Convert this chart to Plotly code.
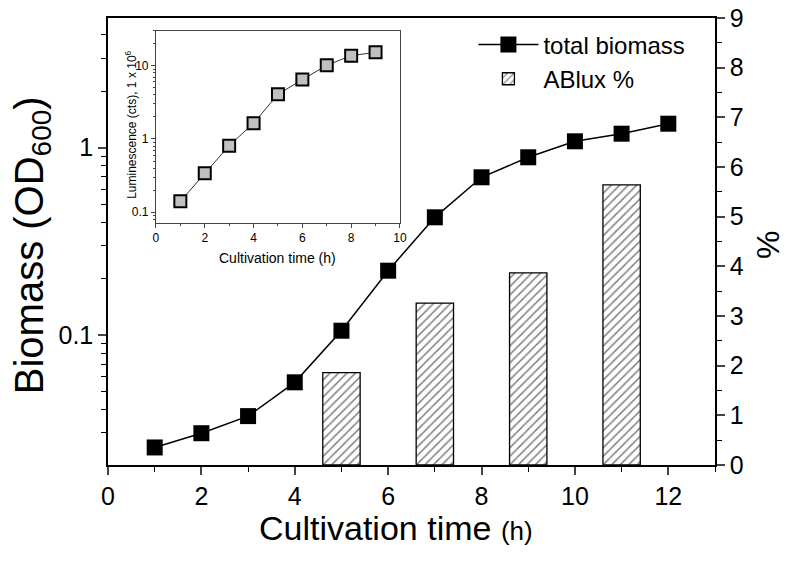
import plotly.graph_objects as go

# ---- data ----
time_h = [1, 2, 3, 4, 5, 6, 7, 8, 9, 10, 11, 12]
biomass_od600 = [0.0251, 0.0299, 0.0369, 0.0559, 0.1054, 0.2205, 0.425, 0.695, 0.889, 1.082, 1.188, 1.343]

ablux_time = [5, 7, 9, 11]
ablux_pct = [1.86, 3.26, 3.87, 5.64]

inset_time = [1, 2, 3, 4, 5, 6, 7, 8, 9]
inset_lum = [0.141, 0.34, 0.81, 1.64, 4.07, 6.45, 10.1, 13.7, 15.2]
inset_err = [0.008, 0.02, 0.05, 0.12, 0.5, 0.8, 1.4, 1.6, 1.8]

main_xticks = [0, 2, 4, 6, 8, 10, 12]
inset_xticks = [0, 2, 4, 6, 8, 10]

FONT = "Liberation Sans, Arial"

fig = go.Figure()

fig.add_trace(go.Scatter(
    x=time_h, y=biomass_od600, name="total biomass", mode="lines+markers",
    line=dict(color="black", width=1.5),
    marker=dict(symbol="square", size=16, color="black"),
    xaxis="x", yaxis="y",
))

fig.add_trace(go.Bar(
    x=ablux_time, y=ablux_pct, name="ABlux %", width=0.8,
    marker=dict(color="white", line=dict(color="black", width=1.3),
                pattern=dict(shape="/", fgcolor="black", bgcolor="white", size=6, solidity=0.25)),
    xaxis="x", yaxis="y2",
))

fig.add_trace(go.Scatter(
    x=inset_time, y=inset_lum, mode="lines+markers", showlegend=False,
    line=dict(color="#333", width=1),
    marker=dict(symbol="square", size=12, color="#c0c0c0", line=dict(color="black", width=2)),
    error_y=dict(type="data", array=inset_err, color="#333", thickness=1, width=2),
    xaxis="x2", yaxis="y3",
))

minor_log_main = [v * m for v in (0.01, 0.1, 1) for m in (2, 3, 4, 5, 6, 7, 8, 9)]
minor_log_inset = [v * m for v in (0.01, 0.1, 1, 10) for m in (2, 3, 4, 5, 6, 7, 8, 9)]

main_axis = dict(showline=True, linecolor="black", showgrid=False, zeroline=False,
                 automargin=False, ticklabeloverflow="allow")
inset_axis = dict(showline=True, linecolor="#444", showgrid=False, zeroline=False,
                  automargin=False, ticklabeloverflow="allow")

fig.update_layout(
    width=785, height=561,
    margin=dict(l=100, r=78, t=10, b=104, autoexpand=False),
    paper_bgcolor="white", plot_bgcolor="white",
    font=dict(family=FONT, color="black"),
    showlegend=True,
    legend=dict(x=0.602, y=0.99, xanchor="left", yanchor="top",
                bgcolor="rgba(0,0,0,0)", font=dict(size=24, family=FONT),
                traceorder="normal", tracegroupgap=0, itemwidth=60),
    bargap=0.2,
    xaxis=dict(**main_axis, linewidth=1.5, mirror=True, domain=[0, 1], range=[0, 13],
               tickvals=main_xticks, ticks="outside", ticklen=8, tickwidth=1.5,
               tickfont=dict(size=25, family=FONT),
               minor=dict(dtick=1, ticks="outside", ticklen=5, tickwidth=1.2, tickcolor="black")),
    yaxis=dict(**main_axis, linewidth=1.5, type="log", range=[-1.694, 0.6925],
               tickvals=[0.1, 1], ticktext=["0.1", "1"], ticks="outside", ticklen=8, tickwidth=1.5,
               tickfont=dict(size=25, family=FONT),
               minor=dict(tickvals=minor_log_main, ticks="outside", ticklen=5, tickwidth=1.2, tickcolor="black")),
    yaxis2=dict(**main_axis, linewidth=1.5, overlaying="y", side="right", range=[0, 9],
                tickvals=list(range(0, 10)), ticks="outside", ticklen=8, tickwidth=1.5,
                tickfont=dict(size=25, family=FONT),
                minor=dict(dtick=0.5, ticks="outside", ticklen=5, tickwidth=1.2, tickcolor="black")),
    xaxis2=dict(**inset_axis, linewidth=1, mirror=True, anchor="y3",
                domain=[0.079, 0.481], range=[0, 10], tickvals=inset_xticks,
                ticks="outside", ticklen=4, tickwidth=1, tickcolor="#444",
                tickfont=dict(size=12, family=FONT),
                minor=dict(dtick=1, ticks="outside", ticklen=2, tickcolor="#444")),
    yaxis3=dict(**inset_axis, linewidth=1, mirror=True, anchor="x2",
                type="log", domain=[0.5414, 0.9716], range=[-1.146, 1.477],
                tickvals=[0.1, 1, 10], ticktext=["0.1", "1", "10"],
                ticks="outside", ticklen=4, tickwidth=1, tickcolor="#444",
                tickfont=dict(size=12, family=FONT),
                minor=dict(tickvals=minor_log_inset, ticks="outside", ticklen=2, tickcolor="#444")),
    annotations=[
        dict(text="Cultivation time <span style='font-size:26px'>(h)</span>", xref="paper", yref="paper",
             x=0.4745, y=-0.141, xanchor="center", yanchor="middle", showarrow=False,
             font=dict(size=34, family=FONT)),
        dict(text="Biomass (OD<sub>600</sub>)", xref="paper", yref="paper",
             x=-0.125, y=0.492, xanchor="center", yanchor="middle", textangle=-90, showarrow=False,
             font=dict(size=40, family=FONT)),
        dict(text="%", xref="paper", yref="paper",
             x=1.087, y=0.492, xanchor="center", yanchor="middle", textangle=-90, showarrow=False,
             font=dict(size=32, family=FONT)),
        dict(text="Luminescence (cts), 1 x 10<sup>6</sup>", xref="paper", yref="paper",
             x=0.0379, y=0.761, xanchor="center", yanchor="middle", textangle=-90, showarrow=False,
             font=dict(size=12, family=FONT)),
        dict(text="Cultivation time (h)", xref="paper", yref="paper",
             x=0.28, y=0.463, xanchor="center", yanchor="middle", showarrow=False,
             font=dict(size=14, family=FONT)),
    ],
)

fig.write_html("out.html")
